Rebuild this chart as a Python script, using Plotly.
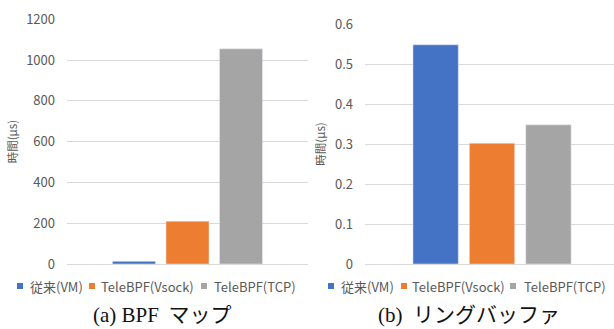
import plotly.graph_objects as go

# --- data ---------------------------------------------------------------
series_names = ["従来(VM)", "TeleBPF(Vsock)", "TeleBPF(TCP)"]
series_colors = ["#4472C4", "#ED7D31", "#A5A5A5"]

map_category = ["BPF マップ"]
map_times_us = [13, 210, 1055]          # 時間(μs)

ring_category = ["リングバッファ"]
ring_times_us = [0.548, 0.302, 0.348]   # 時間(μs)

map_ticks = [0, 200, 400, 600, 800, 1000, 1200]
ring_ticks = [0, 0.1, 0.2, 0.3, 0.4, 0.5, 0.6]
ring_tick_text = ["0", "0.1", "0.2", "0.3", "0.4", "0.5", "0.6"]

captions = ["(a) BPF \u2009マップ", "(b)\u2002リングバッファ"]

# --- figure -------------------------------------------------------------
W, H = 614, 329
SANS = "Noto Sans CJK JP, Noto Sans, sans-serif"
SERIF = "Liberation Serif, DejaVu Serif, Noto Sans CJK JP, serif"
TEXT = "#595959"
GRID = "#D9D9D9"

fig = go.Figure()

for name, color, v in zip(series_names, series_colors, map_times_us):
    fig.add_trace(go.Bar(x=map_category, y=[v], name=name, marker_color=color,
                         xaxis="x", yaxis="y", showlegend=False))
for name, color, v in zip(series_names, series_colors, ring_times_us):
    fig.add_trace(go.Bar(x=ring_category, y=[v], name=name, marker_color=color,
                         xaxis="x2", yaxis="y2", showlegend=False))


def px_x(p):
    return p / W


def px_y(p):
    return (H - p) / H


yaxis_common = dict(
    showgrid=True, gridcolor=GRID, gridwidth=1,
    zeroline=False, showline=False, ticks="", automargin=False,
    tickfont=dict(family=SANS, size=13, color=TEXT),
    ticklabelstandoff=11,
    title=dict(text="時間(μs)", font=dict(family=SANS, size=11.5, color=TEXT),
               standoff=6),
)
xaxis_common = dict(showticklabels=False, showgrid=False, zeroline=False,
                    showline=True, linecolor=GRID, linewidth=1, ticks="",
                    automargin=False)

fig.update_layout(
    width=W, height=H,
    margin=dict(l=0, r=0, t=0, b=0, pad=0, autoexpand=False),
    paper_bgcolor="white", plot_bgcolor="white",
    barmode="group", bargap=0.334, bargroupgap=0.196,
    xaxis=dict(domain=[px_x(67), px_x(308)], range=[-0.5, 0.5], anchor="y",
               **xaxis_common),
    yaxis=dict(domain=[px_y(264), px_y(19.3)], range=[0, 1200],
               tickvals=map_ticks, anchor="x", **yaxis_common),
    xaxis2=dict(domain=[px_x(365), 1.0], range=[-0.5, 0.48], anchor="y2",
                **xaxis_common),
    yaxis2=dict(domain=[px_y(264), px_y(24)], range=[0, 0.6],
                tickvals=ring_ticks, ticktext=ring_tick_text, anchor="x2",
                **yaxis_common),
)

# legend rows (one per chart): swatch left edges and label starts in px
legend_rows = [
    dict(swatch=[17, 89, 201], label=[28, 99, 212]),
    dict(swatch=[328, 401, 510], label=[339, 410, 522]),
]
legend_y = 286
for row in legend_rows:
    for name, color, sx, lx in zip(series_names, series_colors,
                                   row["swatch"], row["label"]):
        fig.add_shape(type="rect", xref="paper", yref="paper",
                      x0=px_x(sx), x1=px_x(sx + 6),
                      y0=px_y(legend_y + 3), y1=px_y(legend_y - 3),
                      fillcolor=color, line_width=0)
        fig.add_annotation(text=name, xref="paper", yref="paper",
                           x=px_x(lx), y=px_y(legend_y), xanchor="left",
                           yanchor="middle", showarrow=False,
                           font=dict(family=SANS, size=13, color=TEXT))

# sub-figure captions
for cap, cx in zip(captions, [162, 469]):
    fig.add_annotation(text=cap, xref="paper", yref="paper",
                       x=px_x(cx), y=px_y(315), xanchor="center",
                       yanchor="middle", showarrow=False,
                       font=dict(family=SERIF, size=21, color="#111111"))

fig.write_html("out.html")
